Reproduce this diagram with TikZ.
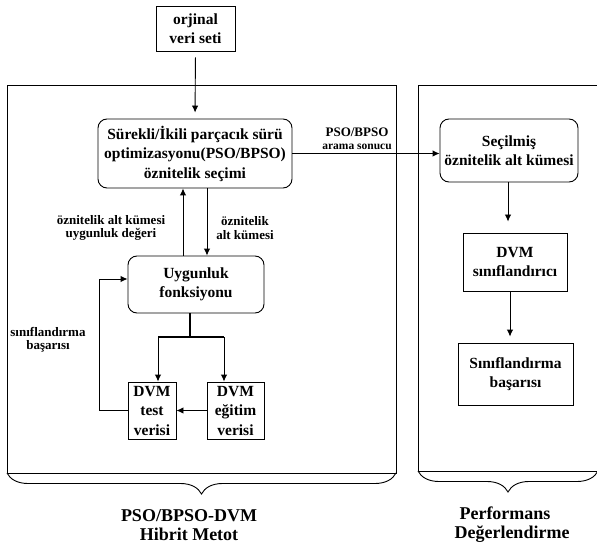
\documentclass[tikz,border=0pt]{standalone}
\usepackage{fontspec}
\setmainfont{Liberation Serif}
\usetikzlibrary{arrows.meta,decorations.pathreplacing,calc}
\newcommand\bxfont{\fontsize{15.5}{19.5}\selectfont\bfseries}
\newcommand\lbfont{\fontsize{13}{13.5}\selectfont\bfseries}
\newcommand\ttlfont{\fontsize{18}{19}\selectfont\bfseries}
\tikzset{
  box/.style={draw, line width=0.9pt, inner sep=0pt, align=center, font=\bxfont},
  rbox/.style={box, rounded corners=9pt},
  lbl/.style={inner sep=0pt, align=center, font=\lbfont},
  ttl/.style={inner sep=0pt, align=center, font=\ttlfont},
  arr/.style={-{Latex[length=7pt,width=6.5pt]}, line width=0.9pt},
  frame/.style={line width=0.9pt},
  brc/.style={decorate, decoration={brace, amplitude=21pt, mirror}, line width=0.9pt}
}
\begin{document}
\begin{tikzpicture}[x=1pt,y=-1pt]
\useasboundingbox (0,0) rectangle (597,548);
% frames
\draw[frame] (7,85) rectangle (396,473);
\draw[frame] (418,85) rectangle (602,471);
\draw[brc] (7,473) -- (396,473);
\draw[brc] (418,471) -- (598,471);
% nodes
\node[box, minimum width=79pt, minimum height=45pt] (orig) at (195.5,28.5) {orjinal\\veri seti};
\node[rbox, minimum width=194pt, minimum height=69pt] (pso) at (195,153.5) {Sürekli/İkili parçacık sürü\\optimizasyonu(PSO/BPSO)\\öznitelik seçimi};
\node[rbox, minimum width=136pt, minimum height=57pt] (uyg) at (196,284.5) {Uygunluk\\fonksiyonu};
\node[box, minimum width=48pt, minimum height=57pt] (test) at (152,410.5) {DVM\\test\\verisi};
\node[box, minimum width=57pt, minimum height=57pt] (egit) at (235.5,410.5) {DVM\\eğitim\\verisi};
\node[rbox, minimum width=138pt, minimum height=63pt] (sec) at (509,150.5) {Seçilmiş\\öznitelik alt kümesi};
\node[box, minimum width=104pt, minimum height=58pt] (dvmc) at (515,262) {DVM\\sınıflandırıcı};
\node[box, minimum width=115pt, minimum height=62pt] (sinb) at (515.5,374) {Sınıflandırma\\başarısı};
% labels
\node[lbl] (l1) at (111,228) {öznitelik alt kümesi\\uygunluk değeri};
\node[lbl] (l2) at (245,228) {öznitelik\\alt kümesi};
\node[lbl] (l3) at (357,139) {PSO/BPSO\\{\fontsize{11.5}{12}\selectfont\bfseries arama sonucu}};
\node[lbl] (l4) at (48,340) {sınıflandırma\\başarısı};
\node[ttl] (t1) at (189,525) {PSO/BPSO-DVM\\Hibrit Metot};
\node[ttl] (t2) at (512,525) {Performans\hspace*{14pt}\\Değerlendirme};
% coordinates
\coordinate (upx) at (183,0);
\coordinate (dnx) at (207,0);
\coordinate (sp) at (190,337);
\coordinate (sl) at (158,337);
\coordinate (sr) at (224,337);
\coordinate (fb) at (99,279);
% connectors
\draw[arr, shorten <=6pt, shorten >=6pt] (orig.south) -- (pso.north);
\draw[arr] (pso.east) -- (pso.east -| sec.west);
\draw[arr] (uyg.north -| upx) -- (pso.south -| upx);
\draw[arr] (pso.south -| dnx) -- (uyg.north -| dnx);
\draw[line width=1.8pt] (uyg.south -| sp) -- (sp);
\draw[line width=1.8pt] (sl) -- (sr);
\draw[arr] (sl) -- (sl |- test.north);
\draw[arr] (sr) -- (sr |- egit.north);
\draw[arr] (egit.west) -- (test.east);
\draw[arr] (test.west) -| (fb) -- (fb -| uyg.west);
\draw[arr, shorten >=11pt] (sec.south -| 508,0) -- (dvmc.north -| 508,0);
\draw[arr, shorten >=6pt] (dvmc.south -| 510,0) -- (sinb.north -| 510,0);
\end{tikzpicture}
\end{document}
